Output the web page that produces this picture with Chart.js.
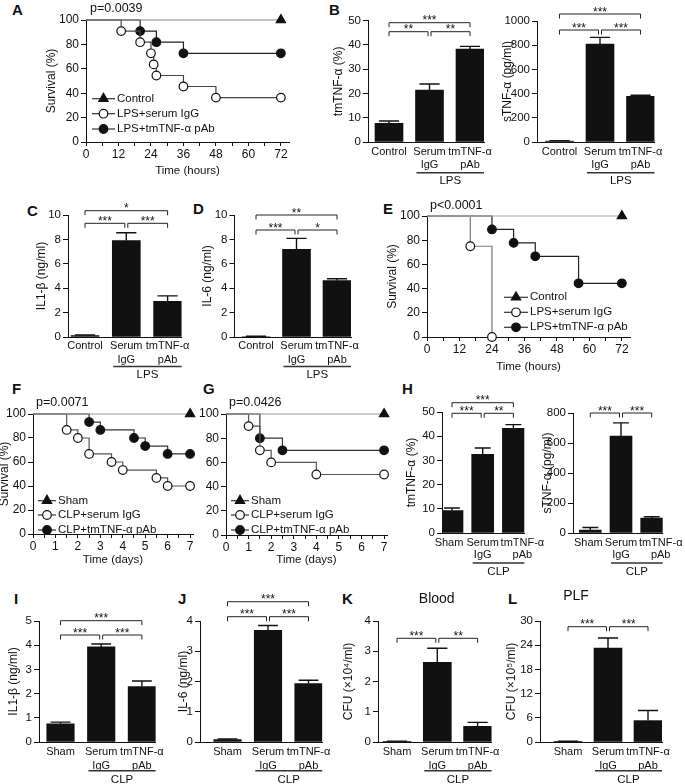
<!DOCTYPE html>
<html>
<head>
<meta charset="utf-8">
<title>tmTNF-α pAb – survival and cytokines</title>
<script src="https://cdn.jsdelivr.net/npm/chart.js@4.4.1/dist/chart.umd.min.js"></script>
<style>
  html, body { margin: 0; padding: 0; background: #fff; }
  body { position: relative; width: 685px; height: 784px; overflow: hidden;
         font-family: "Liberation Sans", Arial, Helvetica, sans-serif; }
  canvas { position: absolute; }
  .panel { position: absolute; font-size: 15px; line-height: 15px; font-weight: bold; color: #111; }
</style>
</head>
<body>
<div class="panel" style="left:12px;top:2px">A</div>
<div class="panel" style="left:329px;top:2px">B</div>
<div class="panel" style="left:27px;top:203px">C</div>
<div class="panel" style="left:193px;top:201px">D</div>
<div class="panel" style="left:383px;top:201px">E</div>
<div class="panel" style="left:12px;top:381px">F</div>
<div class="panel" style="left:203px;top:381px">G</div>
<div class="panel" style="left:402px;top:381px">H</div>
<div class="panel" style="left:14px;top:591px">I</div>
<div class="panel" style="left:178px;top:591px">J</div>
<div class="panel" style="left:342px;top:591px">K</div>
<div class="panel" style="left:508px;top:591px">L</div>

<script>
// ---------- survival data ----------
const hourTicks = [0, 6, 12, 18, 24, 30, 36, 42, 48, 54, 60, 66, 72];
const dayTicks = [0, 0.5, 1, 1.5, 2, 2.5, 3, 3.5, 4, 4.5, 5, 5.5, 6, 6.5, 7];
const survivalTicks = [0, 20, 40, 60, 80, 100];
const lpsLegend = ['Control', 'LPS+serum IgG', 'LPS+tmTNF-α pAb'];
const clpLegend = ['Sham', 'CLP+serum IgG', 'CLP+tmTNF-α pAb'];

// A: LPS, hours
const aCtrlTime = [0, 72];
const aCtrlSurv = [100, 100];
const aIgGTime = [0, 13, 20, 24, 25, 26, 36, 48, 72];
const aIgGSurv = [100, 90.9, 81.8, 72.7, 63.6, 54.5, 45.5, 36.4, 36.4];
const aPAbTime = [0, 20, 26, 36, 72];
const aPAbSurv = [100, 90.9, 81.8, 72.7, 72.7];

// E: LPS, hours
const eCtrlTime = [0, 72];
const eCtrlSurv = [100, 100];
const eIgGTime = [0, 16, 24];
const eIgGSurv = [100, 75, 0];
const ePAbTime = [0, 24, 32, 40, 56, 72];
const ePAbSurv = [100, 88.9, 77.8, 66.7, 44.4, 44.4];

// F: CLP, days
const fShamTime = [0, 7];
const fShamSurv = [100, 100];
const fIgGTime = [0, 1.5, 2, 2.5, 3.5, 4, 5.5, 6, 7];
const fIgGSurv = [100, 86.7, 80, 66.7, 60, 53.3, 46.7, 40, 40];
const fPAbTime = [0, 2.5, 3, 4.5, 5, 6, 7];
const fPAbSurv = [100, 93.3, 86.7, 80, 73.3, 66.7, 66.7];

// G: CLP, days
const gShamTime = [0, 7];
const gShamSurv = [100, 100];
const gIgGTime = [0, 1, 1.5, 2, 4, 7];
const gIgGSurv = [100, 90, 70, 60, 50, 50];
const gPAbTime = [0, 1.5, 2.5, 7];
const gPAbSurv = [100, 80, 70, 70];

// ---------- bar data (mean, SEM) ----------
const lpsGroups = [['Control'], ['Serum', 'IgG'], ['tmTNF-α', 'pAb']];
const clpGroups = [['Sham'], ['Serum', 'IgG'], ['tmTNF-α', 'pAb']];

const bTmMean = [7.7, 21.4, 38.3];
const bTmErr = [0.95, 2.5, 1.1];
const bTmTicks = [0, 10, 20, 30, 40, 50];
const bSMean = [8, 810, 377];
const bSErr = [3, 55, 9];
const bSTicks = [0, 200, 400, 600, 800, 1000];
const cMean = [0.12, 7.9, 2.93];
const cErr = [0.05, 0.65, 0.44];
const cTicks = [0, 2, 4, 6, 8, 10];
const dMean = [0.04, 7.18, 4.63];
const dErr = [0.02, 0.9, 0.15];
const dTicks = [0, 2, 4, 6, 8, 10];
const hTmMean = [9.3, 32.5, 43.3];
const hTmErr = [1.0, 2.6, 1.5];
const hTmTicks = [0, 10, 20, 30, 40, 50];
const hSMean = [20, 646, 99];
const hSErr = [17, 88, 9];
const hSTicks = [0, 200, 400, 600, 800];
const iMean = [0.75, 3.93, 2.29];
const iErr = [0.07, 0.12, 0.23];
const iTicks = [0, 1, 2, 3, 4, 5];
const jMean = [0.08, 3.69, 1.93];
const jErr = [0.02, 0.16, 0.11];
const jTicks = [0, 1, 2, 3, 4];
const kMean = [0.02, 2.63, 0.52];
const kErr = [0.01, 0.47, 0.13];
const kTicks = [0, 1, 2, 3, 4];
const lMean = [0.15, 23.3, 5.3];
const lErr = [0.05, 2.5, 2.5];
const lTicks = [0, 6, 12, 18, 24, 30];

// ---------- chart defaults ----------
const FONT = '"Liberation Sans", Arial, Helvetica, sans-serif';
Chart.defaults.font.family = FONT;
Chart.defaults.font.size = 12;
Chart.defaults.color = '#111';
Chart.defaults.animation = false;
Chart.defaults.events = [];
Chart.defaults.plugins.legend.display = false;
Chart.defaults.plugins.tooltip.enabled = false;

function addCanvas(l, t, r, b) {
  const c = document.createElement('canvas');
  c.width = r - l;
  c.height = b - t;
  c.style.left = l + 'px';
  c.style.top = t + 'px';
  document.body.appendChild(c);
  return c;
}

// force axis box size so the plot area lands where the figure has it
function fixBox(prop, size) {
  return s => {
    s[prop] = size;
    s.paddingLeft = s.paddingRight = s.paddingTop = s.paddingBottom = 0;
  };
}

function marker(ctx, style, r, x, y, fill) {
  ctx.beginPath();
  if (style === 'triangle') {
    const a = 2 * Math.PI / 3;
    ctx.moveTo(x, y - r);
    ctx.lineTo(x + Math.sin(a) * r, y - Math.cos(a) * r);
    ctx.lineTo(x + Math.sin(2 * a) * r, y - Math.cos(2 * a) * r);
    ctx.closePath();
  } else {
    ctx.arc(x, y, r, 0, Math.PI * 2);
  }
  ctx.fillStyle = fill;
  ctx.fill();
  ctx.strokeStyle = '#111';
  ctx.lineWidth = 1.2;
  ctx.stroke();
}

// rotated y-axis title, centred on the plot height
function yTitle(ctx, text, x, a) {
  ctx.save();
  ctx.translate(x, (a.top + a.bottom) / 2);
  ctx.rotate(-Math.PI / 2);
  ctx.font = '12px ' + FONT;
  ctx.fillStyle = '#111';
  ctx.textAlign = 'center';
  ctx.textBaseline = 'middle';
  ctx.fillText(text, 0, 0);
  ctx.restore();
}

// ---------- Kaplan-Meier panels ----------
function survivalChart(cfg) {
  const a = cfg.area;
  const L = Math.round(cfg.yTitle ? cfg.yTitleX - 7.2 : a.left - 40);
  const T = Math.round(Math.min(a.top, cfg.pY) - 12);
  const R = Math.round(a.right + 10);
  const B = Math.round(cfg.xTitleY + 6.9);
  const canvas = addCanvas(L, T, R, B);
  const every = cfg.labelEvery;

  const datasets = cfg.series.map(s => ({
    label: s.label,
    data: s.t.map((t, i) => ({ x: t, y: s.s[i] })),
    stepped: 'before',
    borderColor: s.line,
    borderWidth: 1.2,
    pointStyle: s.marker,
    pointRadius: s.t.map((t, i) => i === 0 ? 0 : s.r),
    pointBackgroundColor: s.fill,
    pointBorderColor: '#111',
    pointBorderWidth: 1.2,
    fill: false,
    clip: false
  }));

  new Chart(canvas, {
    type: 'line',
    data: { datasets },
    options: {
      responsive: false,
      devicePixelRatio: 1,
      layout: { padding: { top: a.top - T, right: R - a.right, left: 0, bottom: 0 } },
      scales: {
        x: {
          type: 'linear', min: 0, max: cfg.xMax,
          afterBuildTicks: s => { s.ticks = cfg.xTicks.map(v => ({ value: v })); },
          afterFit: fixBox('height', B - a.bottom),
          ticks: {
            autoSkip: false, maxRotation: 0, padding: 1,
            callback: v => Math.abs(v / every - Math.round(v / every)) < 1e-6 ? String(v) : ''
          },
          grid: { drawOnChartArea: false, tickLength: 4, color: '#111' },
          border: { color: '#111', width: 1 },
          title: { display: true, text: cfg.xTitle, padding: 0, font: { size: 11.5 } }
        },
        y: {
          min: 0, max: 100,
          afterBuildTicks: s => { s.ticks = survivalTicks.map(v => ({ value: v })); },
          afterFit: fixBox('width', a.left - L),
          ticks: { padding: 2, callback: v => String(v) },
          grid: { drawOnChartArea: false, tickLength: 5, color: '#111' },
          border: { color: '#111', width: 1 }
        }
      }
    },
    plugins: [{
      id: 'survDeco',
      afterDraw(chart) {
        const ctx = chart.ctx;
        ctx.save();
        ctx.translate(-L, -T);
        if (cfg.yTitle) yTitle(ctx, cfg.yTitle, cfg.yTitleX, a);
        ctx.fillStyle = '#111';
        ctx.textAlign = 'left';
        ctx.textBaseline = 'middle';
        ctx.font = '12.5px ' + FONT;
        ctx.fillText(cfg.p, cfg.pX, cfg.pY);
        const lg = cfg.legend;
        cfg.series.forEach((s, k) => {
          const y = lg.ys[k];
          ctx.strokeStyle = '#333';
          ctx.lineWidth = 1.2;
          ctx.beginPath();
          ctx.moveTo(lg.x0, y);
          ctx.lineTo(lg.x1, y);
          ctx.stroke();
          marker(ctx, s.marker, s.r, (lg.x0 + lg.x1) / 2, y, s.fill);
          ctx.fillStyle = '#111';
          ctx.font = '11.5px ' + FONT;
          ctx.fillText(s.label, lg.tx, y);
        });
        ctx.restore();
      }
    }]
  });
}

function series(labels, times, survs, lines) {
  return [
    { label: labels[0], t: times[0], s: survs[0], marker: 'triangle', fill: '#111', line: lines[0], r: 5.4 },
    { label: labels[1], t: times[1], s: survs[1], marker: 'circle', fill: '#fff', line: lines[1], r: 4.3 },
    { label: labels[2], t: times[2], s: survs[2], marker: 'circle', fill: '#111', line: lines[2], r: 4.3 }
  ];
}

survivalChart({
  area: { left: 86, right: 289, top: 20, bottom: 142 }, xMax: 75, xTicks: hourTicks, labelEvery: 12,
  yTitle: 'Survival (%)', yTitleX: 51.3, xTitle: 'Time (hours)', xTitleY: 171.5,
  p: 'p=0.0039', pX: 90, pY: 9,
  legend: { x0: 92, x1: 115, tx: 117, ys: [98.7, 113.7, 129] },
  series: series(lpsLegend, [aCtrlTime, aIgGTime, aPAbTime], [aCtrlSurv, aIgGSurv, aPAbSurv], ['#888', '#444', '#222'])
});

survivalChart({
  area: { left: 427, right: 630, top: 216, bottom: 337 }, xMax: 75, xTicks: hourTicks, labelEvery: 12,
  yTitle: 'Survival (%)', yTitleX: 392.5, xTitle: 'Time (hours)', xTitleY: 367.3,
  p: 'p<0.0001', pX: 430, pY: 206,
  legend: { x0: 504, x1: 528, tx: 530, ys: [297.3, 312.3, 327.3] },
  series: series(lpsLegend, [eCtrlTime, eIgGTime, ePAbTime], [eCtrlSurv, eIgGSurv, ePAbSurv], ['#aaa', '#777', '#222'])
});

survivalChart({
  area: { left: 33, right: 193, top: 414, bottom: 534 }, xMax: 7.13, xTicks: dayTicks, labelEvery: 1,
  yTitle: 'Survival (%)', yTitleX: 5, xTitle: 'Time (days)', xTitleY: 560,
  p: 'p=0.0071', pX: 36, pY: 403,
  legend: { x0: 38, x1: 56, tx: 58, ys: [500.7, 515, 530] },
  series: series(clpLegend, [fShamTime, fIgGTime, fPAbTime], [fShamSurv, fIgGSurv, fPAbSurv], ['#999', '#555', '#333'])
});

survivalChart({
  area: { left: 226, right: 387, top: 414, bottom: 535 }, xMax: 7.13, xTicks: dayTicks, labelEvery: 1,
  yTitle: null, xTitle: 'Time (days)', xTitleY: 560,
  p: 'p=0.0426', pX: 229, pY: 403,
  legend: { x0: 231, x1: 249, tx: 251, ys: [500.7, 515, 530] },
  series: series(clpLegend, [gShamTime, gIgGTime, gPAbTime], [gShamSurv, gIgGSurv, gPAbSurv], ['#999', '#555', '#333'])
});

// ---------- bar panels ----------
function barChart(cfg) {
  const a = cfg.area;
  const c2 = cfg.c0 + 2 * cfg.step;
  const right = c2 + cfg.barW / 2;
  const xMin = (a.left - cfg.c0) / cfg.step;
  const xMax = 2 + (right - c2) / cfg.step;
  const shift = cfg.labelShift || [0, 0, 0];
  const tops = cfg.brackets.map(b => b[2]);
  const L = Math.round(cfg.yTitleX - 7.2);
  const T = Math.round(Math.min(a.top, ...tops, cfg.title ? cfg.title.y : 999) - 16);
  const R = Math.min(685, Math.round(right + 30));
  const B = Math.round(cfg.groupY + 9);
  const canvas = addCanvas(L, T, R, B);
  const yTicks = cfg.yTicks;

  new Chart(canvas, {
    type: 'bar',
    data: {
      datasets: [{
        data: cfg.mean.map((v, i) => ({ x: i, y: v })),
        backgroundColor: '#111',
        borderWidth: 0,
        barThickness: cfg.barW
      }]
    },
    options: {
      responsive: false,
      devicePixelRatio: 1,
      layout: { padding: { top: a.top - T, right: R - right, left: 0, bottom: 0 } },
      scales: {
        x: {
          type: 'linear', min: xMin, max: xMax, offset: false,
          afterBuildTicks: s => { s.ticks = cfg.labels.map((l, i) => ({ value: i + shift[i] / cfg.step })); },
          afterFit: fixBox('height', B - a.bottom),
          ticks: {
            autoSkip: false, maxRotation: 0, padding: cfg.labelPad,
            font: { size: 11, lineHeight: cfg.labelLH + 'px' },
            callback: (v, i) => cfg.labels[i]
          },
          grid: { display: false, drawTicks: false },
          border: { color: '#111', width: 1 }
        },
        y: {
          min: 0, max: yTicks[yTicks.length - 1],
          afterBuildTicks: s => { s.ticks = yTicks.map(v => ({ value: v })); },
          afterFit: fixBox('width', a.left - L),
          ticks: { padding: 2, font: { size: 11.5 }, callback: v => String(v) },
          grid: { drawOnChartArea: false, tickLength: 5, color: '#111' },
          border: { color: '#111', width: 1 }
        }
      }
    },
    plugins: [{
      id: 'barDeco',
      afterDatasetsDraw(chart) {
        const ctx = chart.ctx;
        const xs = chart.scales.x, ys = chart.scales.y;
        const bars = chart.getDatasetMeta(0).data;
        ctx.save();
        // upper error whiskers
        ctx.strokeStyle = '#111';
        ctx.lineWidth = 1.4;
        bars.forEach((b, i) => {
          const top = ys.getPixelForValue(cfg.mean[i] + cfg.err[i]);
          const cap = cfg.barW * 0.36;
          ctx.beginPath();
          ctx.moveTo(b.x, b.y);
          ctx.lineTo(b.x, top);
          ctx.moveTo(b.x - cap, top);
          ctx.lineTo(b.x + cap, top);
          ctx.stroke();
        });

        ctx.translate(-L, -T);
        const px = i => xs.getPixelForValue(i) + L;
        yTitle(ctx, cfg.yTitle, cfg.yTitleX, a);

        // significance brackets
        ctx.lineWidth = 1;
        ctx.strokeStyle = '#222';
        ctx.fillStyle = '#111';
        ctx.font = '12px ' + FONT;
        ctx.textAlign = 'center';
        ctx.textBaseline = 'alphabetic';
        cfg.brackets.forEach(([i, j, y, s]) => {
          const x1 = px(i) + (i === 1 ? 1.5 : 0);
          const x2 = px(j) - (j === 1 ? 1.5 : 0);
          ctx.beginPath();
          ctx.moveTo(x1, y + 4.5);
          ctx.lineTo(x1, y);
          ctx.lineTo(x2, y);
          ctx.lineTo(x2, y + 4.5);
          ctx.stroke();
          ctx.fillText(s, (x1 + x2) / 2, y + 1.5);
        });

        // treatment group underline
        const u0 = px(1) - cfg.barW / 2 + 1;
        const u1 = right;
        ctx.lineWidth = 1.5;
        ctx.strokeStyle = '#333';
        ctx.beginPath();
        ctx.moveTo(u0, cfg.under);
        ctx.lineTo(u1, cfg.under);
        ctx.stroke();
        ctx.font = '11.5px ' + FONT;
        ctx.textBaseline = 'middle';
        ctx.fillText(cfg.group, (u0 + u1) / 2, cfg.groupY);

        if (cfg.title) {
          ctx.font = '14px ' + FONT;
          ctx.fillText(cfg.title.text, cfg.title.x, cfg.title.y);
        }
        ctx.restore();
      }
    }]
  });
}

// B
barChart({
  area: { left: 368, top: 20.7, bottom: 142 }, c0: 389, step: 40.5, barW: 28,
  yTitle: 'tmTNF-α (%)', yTitleX: 338.8, yTicks: bTmTicks,
  labels: lpsGroups, mean: bTmMean, err: bTmErr, labelLH: 13.3, labelPad: 3,
  brackets: [[0, 2, 22.7, '***'], [0, 1, 31.7, '**'], [1, 2, 31.7, '**']],
  under: 172.7, group: 'LPS', groupY: 181
});
barChart({
  area: { left: 537, top: 21, bottom: 142 }, c0: 559.5, step: 40.5, barW: 28,
  yTitle: 'sTNF-α (pg/ml)', yTitleX: 507.5, yTicks: bSTicks,
  labels: lpsGroups, mean: bSMean, err: bSErr, labelLH: 13.3, labelPad: 3,
  brackets: [[0, 2, 14, '***'], [0, 1, 30, '***'], [1, 2, 30, '***']],
  under: 172.7, group: 'LPS', groupY: 181
});
// C
barChart({
  area: { left: 68, top: 215, bottom: 337 }, c0: 85, step: 41.3, barW: 28,
  yTitle: 'IL1-β (ng/ml)', yTitleX: 41.3, yTicks: cTicks,
  labels: lpsGroups, mean: cMean, err: cErr, labelLH: 14, labelPad: 2.3,
  brackets: [[0, 2, 210.7, '*'], [0, 1, 223.3, '***'], [1, 2, 223.3, '***']],
  under: 366.5, group: 'LPS', groupY: 375
});
// D
barChart({
  area: { left: 234.5, top: 215, bottom: 337 }, c0: 256, step: 40.5, barW: 28,
  yTitle: 'IL-6 (ng/ml)', yTitleX: 207.5, yTicks: dTicks,
  labels: lpsGroups, mean: dMean, err: dErr, labelLH: 14, labelPad: 2.3,
  brackets: [[0, 2, 215, '**'], [0, 1, 230, '***'], [1, 2, 230, '*']],
  under: 366.5, group: 'LPS', groupY: 375
});
// H
barChart({
  area: { left: 442, top: 412, bottom: 533 }, c0: 452, step: 30.7, barW: 22,
  yTitle: 'tmTNF-α (%)', yTitleX: 412, yTicks: hTmTicks,
  labels: clpGroups, mean: hTmMean, err: hTmErr, labelLH: 12.3, labelPad: 3.5, labelShift: [-3, 0, 9],
  brackets: [[0, 2, 402.7, '***'], [0, 1, 413.3, '***'], [1, 2, 413.3, '**']],
  under: 563, group: 'CLP', groupY: 572
});
barChart({
  area: { left: 573, top: 413, bottom: 533 }, c0: 590.3, step: 30.7, barW: 22,
  yTitle: 'sTNF-α (pg/ml)', yTitleX: 547.5, yTicks: hSTicks,
  labels: clpGroups, mean: hSMean, err: hSErr, labelLH: 12.3, labelPad: 3.5, labelShift: [-2, 0, 9],
  brackets: [[0, 1, 413, '***'], [1, 2, 413, '***']],
  under: 563, group: 'CLP', groupY: 572
});
// I
barChart({
  area: { left: 39, top: 621, bottom: 742 }, c0: 60.5, step: 40.7, barW: 27.5,
  yTitle: 'IL1-β (ng/ml)', yTitleX: 13.3, yTicks: iTicks,
  labels: clpGroups, mean: iMean, err: iErr, labelLH: 14.3, labelPad: 2.5,
  brackets: [[0, 2, 620.7, '***'], [0, 1, 635, '***'], [1, 2, 635, '***']],
  under: 770.7, group: 'CLP', groupY: 780
});
// J
barChart({
  area: { left: 200, top: 621, bottom: 742 }, c0: 227.5, step: 40.5, barW: 27.5,
  yTitle: 'IL-6 (ng/ml)', yTitleX: 183.3, yTicks: jTicks,
  labels: clpGroups, mean: jMean, err: jErr, labelLH: 14.3, labelPad: 2.5,
  brackets: [[0, 2, 601.7, '***'], [0, 1, 616.7, '***'], [1, 2, 616.7, '***']],
  under: 770.7, group: 'CLP', groupY: 780
});
// K
barChart({
  area: { left: 378, top: 621, bottom: 742 }, c0: 397, step: 40.3, barW: 28,
  yTitle: 'CFU (×10⁴/ml)', yTitleX: 348.3, yTicks: kTicks,
  labels: clpGroups, mean: kMean, err: kErr, labelLH: 14.3, labelPad: 2.5,
  brackets: [[0, 1, 638.3, '***'], [1, 2, 638.3, '**']],
  under: 770.7, group: 'CLP', groupY: 780,
  title: { text: 'Blood', x: 436.7, y: 599 }
});
// L
barChart({
  area: { left: 540, top: 621, bottom: 742 }, c0: 568, step: 40, barW: 28,
  yTitle: 'CFU (×10⁵/ml)', yTitleX: 511.7, yTicks: lTicks,
  labels: clpGroups, mean: lMean, err: lErr, labelLH: 14.3, labelPad: 2.5,
  brackets: [[0, 1, 626.7, '***'], [1, 2, 626.7, '***']],
  under: 770.7, group: 'CLP', groupY: 780,
  title: { text: 'PLF', x: 576, y: 596 }
});
</script>
</body>
</html>
